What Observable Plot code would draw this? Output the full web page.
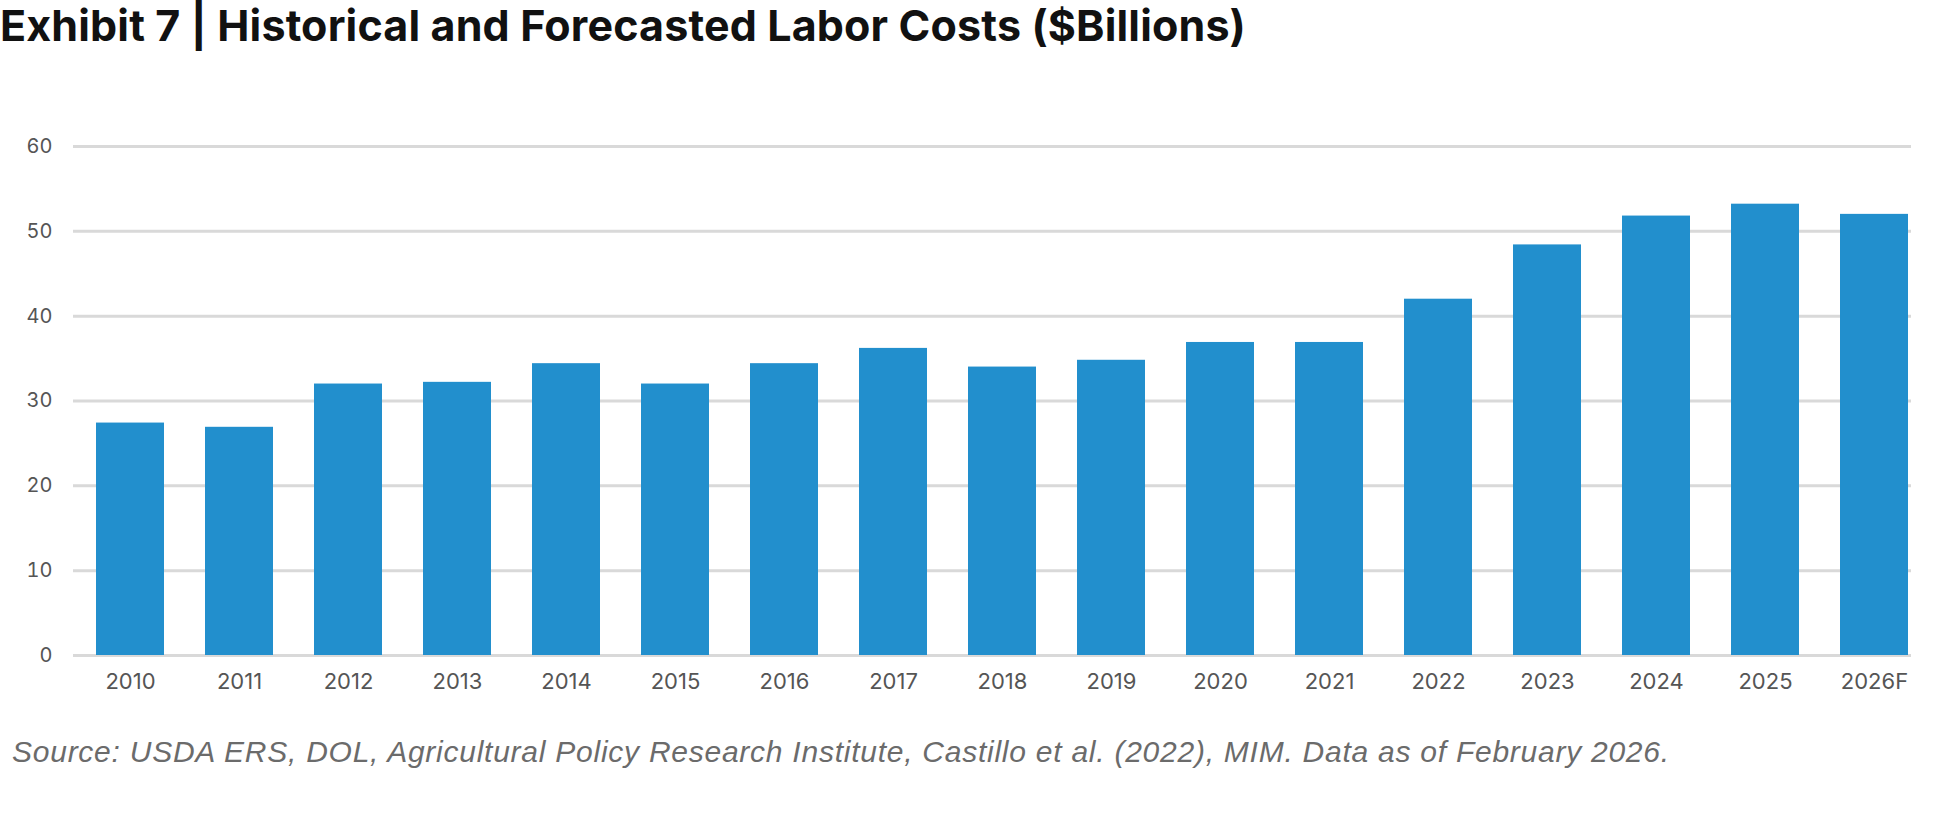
<!DOCTYPE html>
<html>
<head>
<meta charset="utf-8">
<script src="https://cdn.jsdelivr.net/npm/d3@7"></script>
<script src="https://cdn.jsdelivr.net/npm/@observablehq/plot@0.6"></script>
<style>
  html, body { margin: 0; padding: 0; background: #fff; }
  #wrap { position: relative; width: 1958px; height: 822px; overflow: hidden; }
  #title { position: absolute; left: 0; top: 0; font-family: Inter, sans-serif; font-weight: 700; font-size: 43px; line-height: 50px; color: #111; white-space: nowrap; letter-spacing: 0.15px; }
  #chart { position: absolute; left: 0; top: 100px; }
  #source { position: absolute; left: 12px; top: 737px; font-family: "Liberation Sans", sans-serif; font-style: italic; font-size: 30px; line-height: 30px; color: #6b6b6b; white-space: nowrap; letter-spacing: 0.75px; }
</style>
</head>
<body>
<div id="wrap">
  <div id="title">Exhibit 7 | Historical and Forecasted Labor Costs ($Billions)</div>
  <div id="chart"></div>
  <div id="source">Source: USDA ERS, DOL, Agricultural Policy Research Institute, Castillo et al. (2022), MIM. Data as of February 2026.</div>
</div>
<script>
const years = ["2010","2011","2012","2013","2014","2015","2016","2017","2018","2019","2020","2021","2022","2023","2024","2025","2026F"];
const laborCosts = [27.4, 26.9, 32.0, 32.2, 34.4, 32.0, 34.4, 36.2, 34.0, 34.8, 36.9, 36.9, 42.0, 48.4, 51.8, 53.2, 52.0];
const yTicks = [0, 10, 20, 30, 40, 50, 60];

const data = years.map((year, i) => ({year, value: laborCosts[i]}));

const chart = Plot.plot({
  width: 1958,
  height: 620,
  marginLeft: 73,
  marginRight: 47,
  marginTop: 46,
  marginBottom: 65,
  style: {fontFamily: "Inter, sans-serif", fontSize: "22px", color: "#555", background: "transparent"},
  x: {type: "band", domain: years, paddingInner: 0.377, paddingOuter: 0.1045, align: 0.87, label: null},
  y: {domain: [0, 60], label: null},
  marks: [
    Plot.gridY(yTicks, {stroke: "#d9d9d9", strokeOpacity: 1, strokeWidth: 3}),
    Plot.barY(data, {x: "year", y: "value", fill: "#228fcd"}),
    Plot.axisX({tickSize: 0, tickPadding: 18, fontSize: 22, label: null, style: "letter-spacing: 1px"}),
    Plot.axisY(yTicks, {tickSize: 0, tickPadding: 21, fontSize: 20, label: null, style: "letter-spacing: 0.5px"})
  ]
});
document.getElementById("chart").appendChild(chart);
</script>
</body>
</html>
